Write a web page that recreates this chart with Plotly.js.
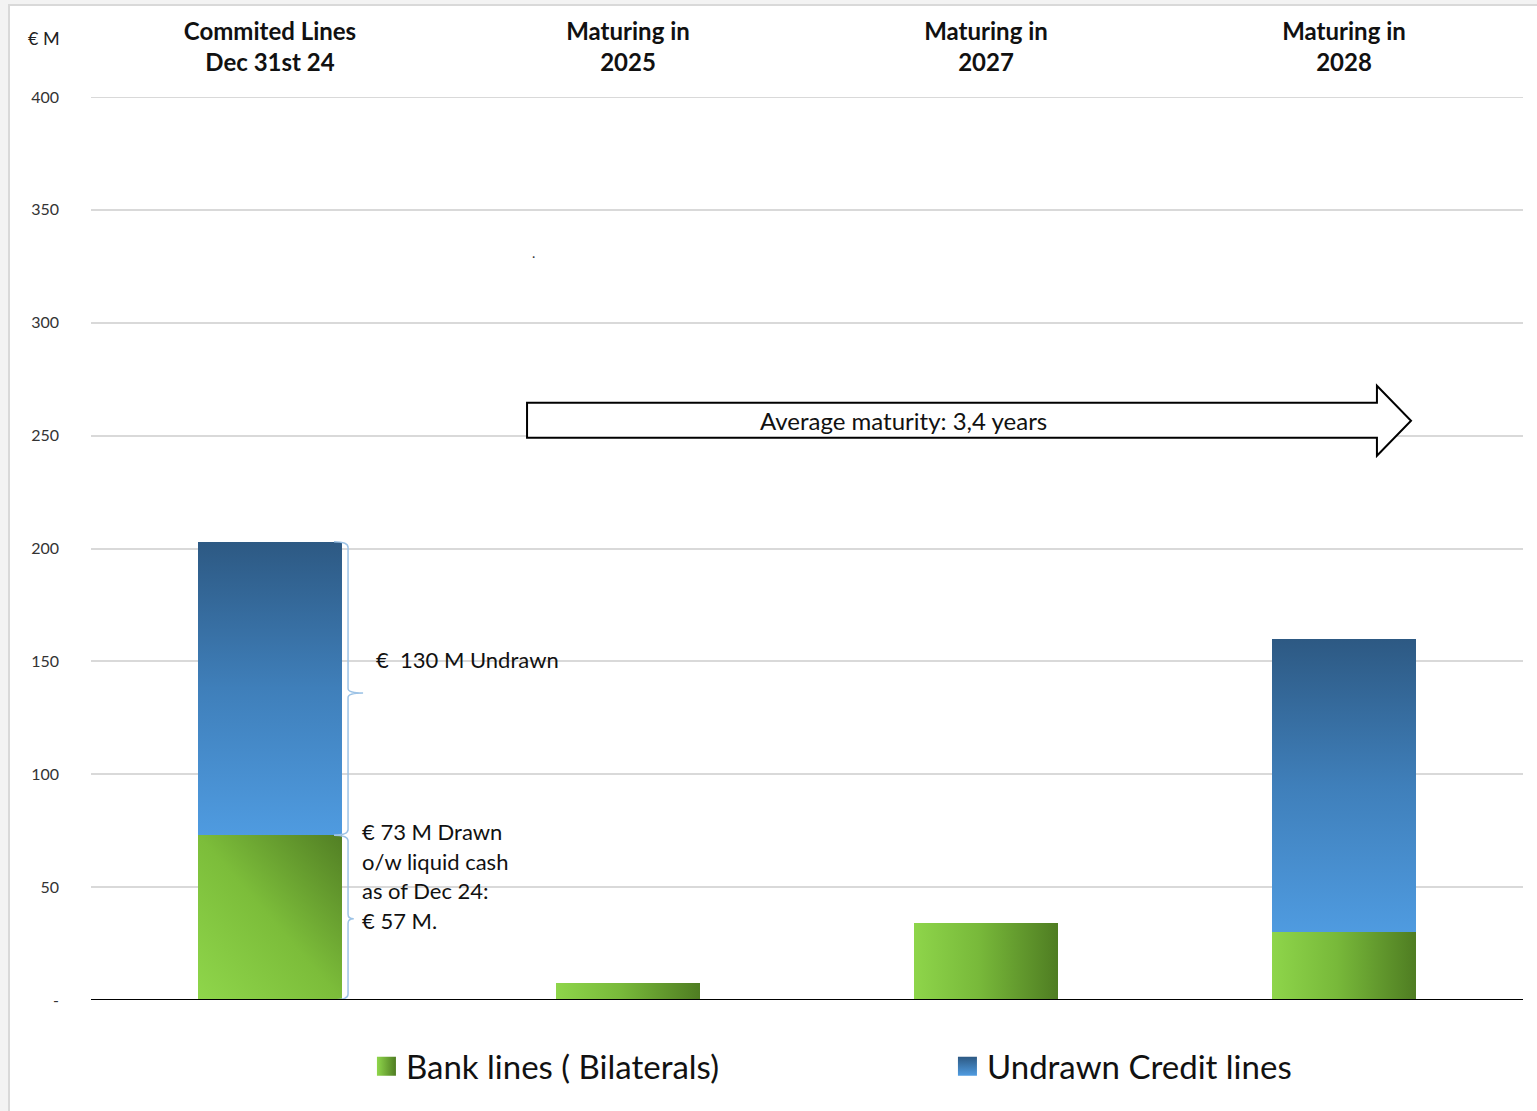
<!DOCTYPE html>
<html>
<head>
<meta charset="utf-8">
<script src="https://cdn.plot.ly/plotly-3.0.1.min.js"></script>
<style>
  html, body { margin: 0; padding: 0; background: #f3f3f3; }
  #frame { position: absolute; left: 8px; top: 4px; width: 1529px; height: 1107px; background: #d9d9d9; }
  #chart { position: absolute; left: 2px; top: 2px; width: 1527px; height: 1105px; background: #fff; }
</style>
</head>
<body>
<div id="frame"><div id="chart"></div></div>
<script>
// ---- data ----
const categories = ["Commited Lines<br>Dec 31st 24", "Maturing in<br>2025", "Maturing in<br>2027", "Maturing in<br>2028"];
const bankLines = [73, 7.5, 34, 30];
const undrawnLines = [130, null, null, 130];
const yTickVals = [0, 50, 100, 150, 200, 250, 300, 350, 400];
const yTickText = ["-", "50", "100", "150", "200", "250", "300", "350", "400"];
const seriesNames = ["Bank lines ( Bilaterals)", "Undrawn Credit lines"];
const undrawnNote = "€  130 M Undrawn";
const drawnNote = ["€ 73 M Drawn", "o/w liquid cash", "as of Dec 24:", "€ 57 M."];
const arrowNote = "Average maturity: 3,4 years";

const FONT = "Lato, 'Open Sans', sans-serif";

const traces = [
  { type: "bar", name: seriesNames[0], x: categories, y: bankLines,
    marker: { color: "#7cc03c", line: { width: 0 } } },
  { type: "bar", name: seriesNames[1], x: categories, y: undrawnLines,
    marker: { color: "#3f7fbf", line: { width: 0 } } }
];

// brace geometry (paper x, data y)
const bx0 = 0.1697, bx1 = 0.1795, btip = 0.19, btip2 = 0.1835;
const upperTop = bankLines[0] + undrawnLines[0], upperBot = bankLines[0], upperMid = 136;
const lowerTop = bankLines[0], lowerBot = 0, lowerMid = 36;
function brace(top, bot, mid, tipX) {
  return `M ${bx0},${top} Q ${bx1},${top} ${bx1},${top - 2.5} L ${bx1},${mid + 2} Q ${bx1},${mid} ${tipX},${mid} ` +
         `Q ${bx1},${mid} ${bx1},${mid - 2} L ${bx1},${bot + 2.5} Q ${bx1},${bot} ${bx0},${bot}`;
}
const ax0 = 0.3045, axh = 0.898, axt = 0.9218;
const arrowPath = `M ${ax0},264.6 L ${axh},264.6 L ${axh},272.1 L ${axt},256.6 L ${axh},241.1 L ${axh},249.1 L ${ax0},249.1 Z`;

const shapes = [
  { type: "line", xref: "paper", yref: "y", x0: 0, x1: 1, y0: 400, y1: 400, line: { color: "#d9d9d9", width: 2 }, layer: "below" },
  { type: "path", xref: "paper", yref: "y", path: arrowPath, fillcolor: "#ffffff", line: { color: "#000", width: 2 }, layer: "above" },
  { type: "path", xref: "paper", yref: "y", path: brace(upperTop, upperBot, upperMid, btip), line: { color: "#9dc3e6", width: 1.5 }, layer: "above" },
  { type: "path", xref: "paper", yref: "y", path: brace(lowerTop, lowerBot, lowerMid, btip2), line: { color: "#9dc3e6", width: 1.5 }, layer: "above" },
  { type: "line", xref: "paper", yref: "y", x0: 0, x1: 1, y0: 0, y1: 0, line: { color: "#000", width: 2 }, layer: "above" }
];

const annotations = [
  { xref: "paper", yref: "paper", x: -0.033, y: 1.065, xanchor: "center", yanchor: "middle", text: "€ M", showarrow: false, font: { family: FONT, size: 18, color: "#222" } },
  { xref: "paper", yref: "y", x: 0.5675, y: 256.5, xanchor: "center", yanchor: "middle", text: arrowNote, showarrow: false, font: { family: FONT, size: 24, color: "#111" } },
  { xref: "paper", yref: "y", x: 0.1975, y: 151, xanchor: "left", yanchor: "middle", text: undrawnNote, showarrow: false, font: { family: FONT, size: 22, color: "#111" } },
  { xref: "paper", yref: "y", x: 0.3087, y: 331, xanchor: "center", yanchor: "middle", text: ".", showarrow: false, font: { family: FONT, size: 14, color: "#333" } }
];
const drawnY = [74.5, 61.5, 48.5, 35.3];
drawnNote.forEach((t, i) => annotations.push({
  xref: "paper", yref: "y", x: 0.1875, y: drawnY[i], xanchor: "left", yanchor: "middle", text: t, showarrow: false,
  font: { family: FONT, size: 22, color: "#111" }
}));

const layout = {
  width: 1527, height: 1105,
  margin: { l: 81, r: 14, t: 91, b: 111, autoexpand: false },
  paper_bgcolor: "#ffffff", plot_bgcolor: "#ffffff",
  barmode: "stack", bargap: 0.6,
  hovermode: false,
  font: { family: FONT, color: "#222" },
  xaxis: { side: "top", type: "category", range: [-0.5, 3.5], showgrid: false, zeroline: false, showline: false, ticks: "",
           tickfont: { family: FONT, size: 24, color: "#111", weight: "bold" }, ticklabelstandoff: 20, fixedrange: true },
  yaxis: { range: [0, 400], tickvals: yTickVals, ticktext: yTickText, showgrid: true, gridcolor: "#d9d9d9", gridwidth: 2,
           zeroline: false, showline: false, ticks: "", tickfont: { family: FONT, size: 16, color: "#333" }, ticklabelstandoff: 31, fixedrange: true },
  legend: { orientation: "h", x: 0.192, xanchor: "left", y: -0.0733, yanchor: "middle", entrywidth: 536, entrywidthmode: "pixels",
            font: { family: FONT, size: 33, color: "#111" }, itemclick: false, itemdoubleclick: false, traceorder: "normal" },
  shapes: shapes,
  annotations: annotations,
  showlegend: true
};

function addGradients(gd) {
  const svg = gd.querySelector("svg.main-svg");
  if (!svg) return;
  if (!svg.querySelector("#gGreen")) {
    const ns = "http://www.w3.org/2000/svg";
    let defs = svg.querySelector("defs");
    if (!defs) { defs = document.createElementNS(ns, "defs"); svg.insertBefore(defs, svg.firstChild); }
    function grad(id, x1, y1, x2, y2, stops) {
      const g = document.createElementNS(ns, "linearGradient");
      g.setAttribute("id", id);
      g.setAttribute("x1", x1); g.setAttribute("y1", y1); g.setAttribute("x2", x2); g.setAttribute("y2", y2);
      stops.forEach(s => { const st = document.createElementNS(ns, "stop"); st.setAttribute("offset", s[0]); st.setAttribute("stop-color", s[1]); g.appendChild(st); });
      defs.appendChild(g);
    }
    grad("gGreen", 0, 1, 1, 0, [[0, "#8fd64b"], [0.5, "#7cbd3a"], [1, "#527f24"]]);
    grad("gGreenH", 0, 0, 1, 0, [[0, "#8ed54a"], [0.45, "#78b93a"], [1, "#4f7d22"]]);
    grad("gBlue", 0, 1, 0, 0, [[0, "#4f9be0"], [0.5, "#3f7fba"], [1, "#2d5983"]]);
    grad("gGreenL", 0, 0, 1, 0, [[0, "#8fd64b"], [1, "#4f7d22"]]);
    grad("gBlueL", 0, 1, 0, 0, [[0, "#4f9be0"], [1, "#2d5983"]]);
  }
  applyFills(gd);
}
function applyFills(gd) {
  const trs = gd.querySelectorAll(".barlayer .trace");
  trs.forEach((t, i) => {
    t.querySelectorAll("path").forEach(p => {
      if (i === 0) {
        let bb; try { bb = p.getBBox(); } catch (e) { bb = { width: 1, height: 2 }; }
        p.style.fill = bb.height > bb.width ? "url(#gGreen)" : "url(#gGreenH)";
      } else {
        p.style.fill = "url(#gBlue)";
      }
    });
  });
  gd.querySelectorAll(".legend .traces").forEach((t, i) => {
    t.querySelectorAll(".legendpoints path").forEach(p => {
      p.style.fill = i === 0 ? "url(#gGreenL)" : "url(#gBlueL)";
      p.style.stroke = "none";
      p.setAttribute("d", "M-9,-9.5h19v19h-19Z");
    });
  });
}

const gd = document.getElementById("chart");
Plotly.newPlot(gd, traces, layout, { displayModeBar: false, staticPlot: true }).then(() => {
  addGradients(gd);
  gd.on && gd.on("plotly_afterplot", () => addGradients(gd));
});
</script>
</body>
</html>
